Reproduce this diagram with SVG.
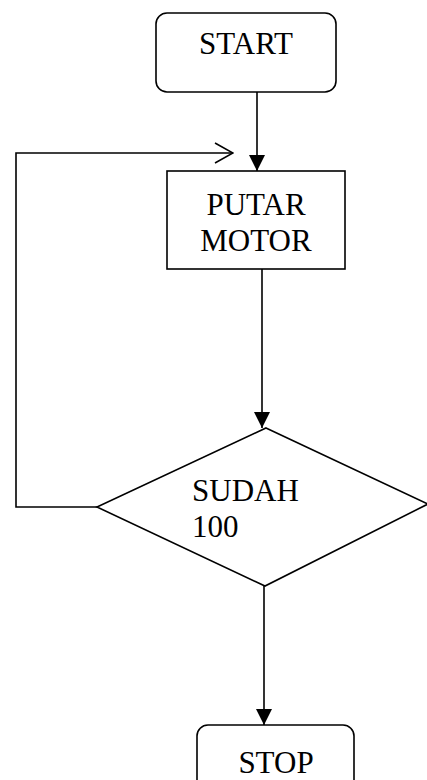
<svg xmlns="http://www.w3.org/2000/svg" width="427" height="780" viewBox="0 0 427 780">
  <style>
    .shape { fill: #ffffff; stroke: #000000; stroke-width: 1.6; }
    .label { font-family: "Liberation Serif", "Times New Roman", serif; font-size: 31px; fill: #000000; }
    .wire { fill: none; stroke: #000000; stroke-width: 1.6; }
  </style>
  <defs>
    <marker id="solid" viewBox="0 0 16 16" refX="16" refY="8" markerWidth="16" markerHeight="16" markerUnits="userSpaceOnUse" orient="auto">
      <path d="M0,0 L16,8 L0,16 Z" fill="#000000"/>
    </marker>
    <marker id="open" viewBox="0 0 20 22" refX="19" refY="11" markerWidth="20" markerHeight="22" markerUnits="userSpaceOnUse" orient="auto">
      <path d="M1,1 L19,11 L1,21" fill="none" stroke="#000000" stroke-width="1.6"/>
    </marker>
  </defs>

  <rect width="427" height="780" fill="#ffffff"/>

  <g id="connectors">
    <line class="wire" x1="257" y1="92" x2="257" y2="171" marker-end="url(#solid)"/>
    <line class="wire" x1="262" y1="269" x2="262" y2="428" marker-end="url(#solid)"/>
    <line class="wire" x1="264" y1="586" x2="264" y2="725" marker-end="url(#solid)"/>
    <polyline class="wire" points="97,507 16,507 16,153 233,153" marker-end="url(#open)"/>
  </g>

  <g id="start">
    <rect class="shape" x="156" y="13" width="180" height="79" rx="11"/>
    <text class="label" x="246" y="54" text-anchor="middle">START</text>
  </g>

  <g id="putar-motor">
    <rect class="shape" x="167" y="171" width="178" height="98"/>
    <text class="label" x="256" y="215" text-anchor="middle">PUTAR</text>
    <text class="label" x="256" y="251" text-anchor="middle">MOTOR</text>
  </g>

  <g id="sudah-100">
    <polygon class="shape" points="266,428 428,504 265,586 97,507"/>
    <text class="label" x="192" y="501">SUDAH</text>
    <text class="label" x="192" y="537">100</text>
  </g>

  <g id="stop">
    <rect class="shape" x="197" y="725" width="157" height="80" rx="11"/>
    <text class="label" x="276" y="773" text-anchor="middle">STOP</text>
  </g>
</svg>
